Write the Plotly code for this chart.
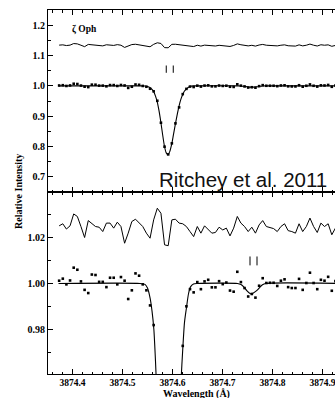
import plotly.graph_objects as go
from plotly.subplots import make_subplots

# ---------------- data ----------------
wave = [3874.3733, 3874.3806, 3874.3878, 3874.3951, 3874.4024, 3874.4097, 3874.4169, 3874.4242,
        3874.4315, 3874.4387, 3874.4460, 3874.4533, 3874.4605, 3874.4678, 3874.4751, 3874.4824,
        3874.4896, 3874.4969, 3874.5042, 3874.5114, 3874.5187, 3874.5260, 3874.5332, 3874.5405,
        3874.5478, 3874.5551, 3874.5623, 3874.5696, 3874.5769, 3874.5841, 3874.5914, 3874.5987,
        3874.6059, 3874.6132, 3874.6205, 3874.6278, 3874.6350, 3874.6423, 3874.6496, 3874.6568,
        3874.6641, 3874.6714, 3874.6787, 3874.6859, 3874.6932, 3874.7005, 3874.7077, 3874.7150,
        3874.7223, 3874.7296, 3874.7368, 3874.7441, 3874.7514, 3874.7586, 3874.7659, 3874.7732,
        3874.7804, 3874.7877, 3874.7950, 3874.8022, 3874.8095, 3874.8168, 3874.8241, 3874.8313,
        3874.8386, 3874.8459, 3874.8531, 3874.8604, 3874.8677, 3874.8749, 3874.8822, 3874.8895,
        3874.8968, 3874.9040, 3874.9113, 3874.9186, 3874.9258]

flux = [1.0012, 1.0021, 0.9996, 1.0013, 1.0069, 1.0060, 1.0009, 0.9972,
        0.9958, 1.0039, 1.0037, 1.0007, 1.0007, 0.9984, 1.0025, 1.0025,
        0.9996, 1.0028, 1.0012, 0.9932, 0.9970, 1.0044, 1.0034, 0.9996,
        0.9970, 0.9904, 0.9818, 0.9508, 0.8784, 0.7994, 0.7740, 0.8104,
        0.8763, 0.9289, 0.9727, 0.9900, 0.9975, 0.9961, 1.0006, 0.9975,
        1.0009, 1.0016, 0.9983, 0.9983, 1.0010, 0.9997, 1.0004, 0.9969,
        0.9964, 1.0051, 1.0006, 0.9980, 0.9943, 0.9954, 0.9938, 0.9990,
        1.0023, 1.0002, 1.0003, 1.0003, 0.9989, 1.0012, 1.0018, 0.9984,
        0.9980, 0.9980, 1.0020, 0.9972, 1.0002, 1.0047, 1.0002, 0.9975,
        1.0016, 1.0012, 1.0029, 0.9968, 1.0010]

# residuals, as drawn (offset) in the lower panel
resid = [1.0252, 1.0261, 1.0238, 1.0252, 1.0304, 1.0293, 1.0249, 1.0201,
         1.0275, 1.0264, 1.0249, 1.0246, 1.0227, 1.0264, 1.0264, 1.0242,
         1.0268, 1.0249, 1.0176, 1.0220, 1.0271, 1.0281, 1.0264, 1.0249,
         1.0220, 1.0198, 1.0278, 1.0329, 1.0307, 1.0169, 1.0165, 1.0278,
         1.0281, 1.0264, 1.0261, 1.0249, 1.0227, 1.0205, 1.0249, 1.0220,
         1.0252, 1.0238, 1.0220, 1.0223, 1.0246, 1.0234, 1.0242, 1.0208,
         1.0242, 1.0293, 1.0264, 1.0249, 1.0227, 1.0246, 1.0220, 1.0256,
         1.0275, 1.0249, 1.0243, 1.0240, 1.0227, 1.0249, 1.0261, 1.0231,
         1.0227, 1.0220, 1.0261, 1.0227, 1.0249, 1.0286, 1.0249, 1.0223,
         1.0264, 1.0249, 1.0261, 1.0213, 1.0242]
resid_top_shift = 0.109   # same residuals shifted up in the upper panel

# model fit profile
fit_wave = [3874.372, 3874.535, 3874.545, 3874.550, 3874.5553, 3874.559, 3874.5627, 3874.566,
            3874.5693, 3874.573, 3874.5767, 3874.580, 3874.584, 3874.5875, 3874.591, 3874.5945,
            3874.5987, 3874.602, 3874.606, 3874.610, 3874.6133, 3874.617, 3874.6207, 3874.624,
            3874.628, 3874.632, 3874.636, 3874.642, 3874.650, 3874.730, 3874.737, 3874.743,
            3874.749, 3874.755, 3874.760, 3874.765, 3874.770, 3874.775, 3874.780, 3874.786,
            3874.940]
fit_flux = [1.0, 1.0, 0.9996, 0.998, 0.9935, 0.988, 0.980, 0.966,
            0.948, 0.918, 0.880, 0.842, 0.800, 0.779, 0.773, 0.783,
            0.810, 0.840, 0.876, 0.910, 0.935, 0.957, 0.972, 0.983,
            0.9895, 0.9955, 0.9985, 0.9998, 1.0, 1.0, 0.9995, 0.9984,
            0.9968, 0.9956, 0.9956, 0.9963, 0.9972, 0.9984, 0.9994, 1.0,
            1.0]

# component positions (tick marks)
comp_top = [3874.5875, 3874.6015]
comp_top_y = [1.043, 1.067]
comp_bot = [3874.755, 3874.769]
comp_bot_y = [1.0079, 1.0118]

x_ticks = [3874.4, 3874.5, 3874.6, 3874.7, 3874.8, 3874.9]
y_ticks_top = [0.7, 0.8, 0.9, 1.0, 1.1, 1.2]
y_ticks_bot = [0.98, 1.00, 1.02]

# ---------------- figure ----------------
W, H = 335, 398
ML, MR, MT, MB = 48, 0, 10, 24

fig = make_subplots(rows=2, cols=1, shared_xaxes=True, vertical_spacing=0)

def seg(xs, ys):
    xx, yy = [], []
    for x in xs:
        xx += [x, x, None]
        yy += [ys[0], ys[1], None]
    return xx, yy

black = "#000000"
for row, (cx, cy) in ((1, (comp_top, comp_top_y)), (2, (comp_bot, comp_bot_y))):
    offs = resid_top_shift if row == 1 else 0.0
    fig.add_trace(go.Scatter(x=wave, y=[r + offs for r in resid], mode="lines",
                             line=dict(color=black, width=1), showlegend=False,
                             hoverinfo="skip"), row=row, col=1)
    fig.add_trace(go.Scatter(x=fit_wave, y=fit_flux, mode="lines",
                             line=dict(color=black, width=1.1, shape="spline", smoothing=0.6),
                             showlegend=False, hoverinfo="skip"), row=row, col=1)
    fig.add_trace(go.Scatter(x=wave, y=flux, mode="markers",
                             marker=dict(color=black, size=2.6, symbol="square", line=dict(width=0)),
                             showlegend=False, hoverinfo="skip"), row=row, col=1)
    sx, sy = seg(cx, cy)
    fig.add_trace(go.Scatter(x=sx, y=sy, mode="lines", line=dict(color=black, width=1),
                             showlegend=False, hoverinfo="skip"), row=row, col=1)

tickfont_y = dict(family="Liberation Serif", size=10, color=black, weight="bold")
tickfont_x = dict(family="Liberation Serif", size=9.5, color=black, weight="bold")
axis_common = dict(showline=True, linecolor=black, linewidth=1, ticks="inside",
                   ticklen=5, tickwidth=1, tickcolor=black, showgrid=False, zeroline=False)

fig.update_xaxes(range=[3874.351, 3874.925], tickmode="array", tickvals=x_ticks,
                 tickformat=".1f", mirror="ticks", ticklabeloverflow="allow",
                 minor=dict(ticks="inside", ticklen=2.5, tickwidth=1, tickcolor=black,
                            dtick=0.02, tick0=3874.4, showgrid=False),
                 tickfont=tickfont_x, **axis_common)
fig.update_xaxes(showticklabels=False, row=1, col=1)

fig.update_yaxes(range=[0.65, 1.25], tickmode="array", tickvals=y_ticks_top, tickformat=".1f",
                 minor=dict(ticks="inside", ticklen=2.5, tickwidth=1, tickcolor=black,
                            dtick=0.05, tick0=0.0, showgrid=False),
                 tickfont=tickfont_y, mirror=False, **axis_common, row=1, col=1)
fig.update_yaxes(range=[0.9604, 1.04], tickmode="array", tickvals=y_ticks_bot, tickformat=".2f",
                 minor=dict(ticks="inside", ticklen=2.5, tickwidth=1, tickcolor=black,
                            dtick=0.01, tick0=0.0, showgrid=False),
                 tickfont=tickfont_y, mirror=False, **axis_common, row=2, col=1)

pw, ph = W - ML - MR, H - MT - MB
def px(xp):
    return (xp - ML) / pw
def py(yp):
    return (H - MB - yp) / ph

annots = [
    dict(text="Relative Intensity", x=px(18), y=py(192), textangle=-90,
         font=dict(family="Liberation Serif", size=10, color=black, weight="bold")),
    dict(text="Wavelength (Å)", x=px(196), y=py(393.5),
         font=dict(family="Liberation Serif", size=10, color=black, weight="bold")),
    dict(text="ζ Oph", x=px(70), y=py(29), xanchor="left",
         font=dict(family="Liberation Serif", size=9.5, color=black, weight="bold")),
    dict(text="Ritchey et al. 2011", x=px(329), y=py(179), xanchor="right",
         font=dict(family="Liberation Sans", size=20.5, color="#111111")),
]
for a in annots:
    a.setdefault("xanchor", "center")
    fig.add_annotation(xref="paper", yref="paper", showarrow=False, yanchor="middle", **a)

fig.update_layout(width=W, height=H, margin=dict(l=ML, r=MR, t=MT, b=MB),
                  paper_bgcolor="white", plot_bgcolor="white")

fig.write_html("out.html", config={"displayModeBar": False},
               post_script="document.body.style.margin='0';document.body.style.overflow='hidden';")
